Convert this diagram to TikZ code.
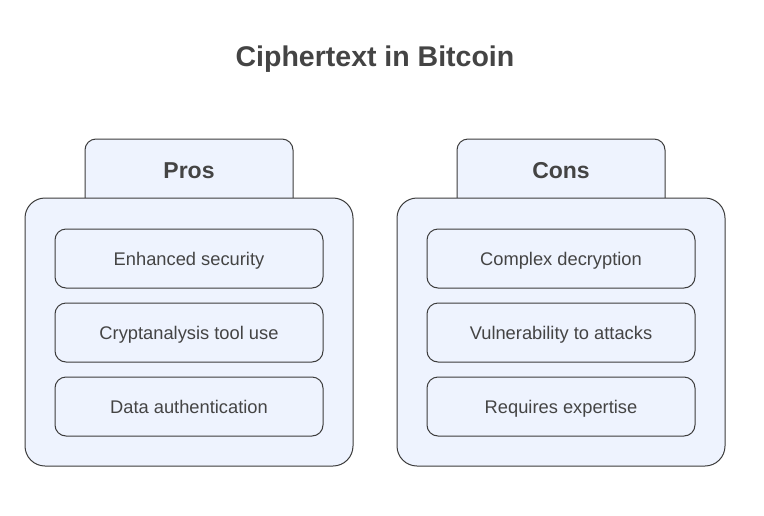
\documentclass[tikz,border=0pt]{standalone}
\usepackage{fontspec}
\setmainfont{Liberation Sans}
\definecolor{boxfill}{HTML}{EEF3FE}
\definecolor{boxline}{HTML}{3C3C3C}
\definecolor{txt}{HTML}{444444}
\tikzset{
  panel/.style={draw=boxline, fill=boxfill, line width=1pt, rounded corners=20pt},
  tabbox/.style={draw=boxline, fill=boxfill, line width=1pt, rounded corners=11pt},
  item/.style={draw=boxline, fill=boxfill, line width=1pt, rounded corners=11pt,
    minimum width=268pt, minimum height=59pt, inner sep=0pt,
    text height=15pt, text depth=2pt,
    font=\fontsize{18.3}{21}\selectfont, text=txt},
  head/.style={font=\fontsize{23}{27}\selectfont\bfseries, text=txt, anchor=base},
  ttl/.style={font=\fontsize{28.5}{33}\selectfont\bfseries, text=txt, anchor=base}
}
\begin{document}
\begin{tikzpicture}[x=1pt,y=-1pt]
\useasboundingbox[fill=white] (0,0) rectangle (764,515);
\node[ttl] (title) at (375,66) {Ciphertext in Bitcoin};
% Pros
\draw[tabbox] (85,215) rectangle (293,139);
\draw[panel] (25,198) rectangle (353,466);
\node[head] (pros) at (189,178) {Pros};
\node[item] (p1) at (189,258.5) {Enhanced security};
\node[item] (p2) at (189,332.5) {Cryptanalysis tool use};
\node[item] (p3) at (189,406.5) {Data authentication};
% Cons
\draw[tabbox] (457,215) rectangle (665,139);
\draw[panel] (397,198) rectangle (725,466);
\node[head] (cons) at (561,178) {Cons};
\node[item] (c1) at (561,258.5) {Complex decryption};
\node[item] (c2) at (561,332.5) {Vulnerability to attacks};
\node[item] (c3) at (561,406.5) {Requires expertise};
\end{tikzpicture}
\end{document}
